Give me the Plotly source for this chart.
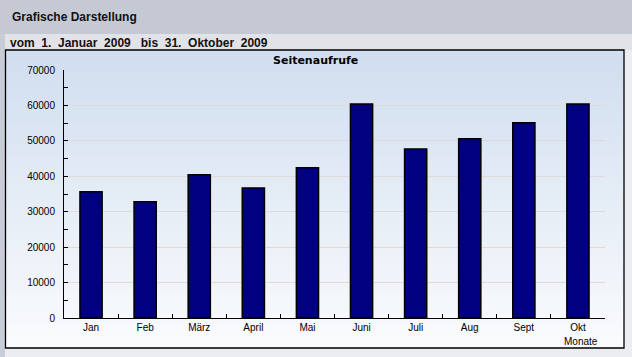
import plotly.graph_objects as go

months = ["Jan", "Feb", "März", "April", "Mai", "Juni", "Juli", "Aug", "Sept", "Okt"]
views = [35600, 32800, 40400, 36700, 42400, 60400, 47700, 50600, 55100, 60400]
y_ticks = [0, 10000, 20000, 30000, 40000, 50000, 60000, 70000]
y_ticktext = [str(v) for v in y_ticks]

W, H = 632, 357
L, R, T, B = 64, 605, 70, 318


def px(x):
    return (x - L) / (R - L)


def py(y):
    return (B - y) / (B - T)


fig = go.Figure()
fig.add_trace(go.Bar(
    x=months, y=views, width=0.41,
    marker=dict(color="#000080", line=dict(color="black", width=1.5)),
    showlegend=False, hoverinfo="x+y",
))

shapes = []
shapes.append(dict(type="rect", xref="paper", yref="paper", x0=px(0), x1=px(W), y0=py(0), y1=py(34),
                   fillcolor="#C5C9D3", line=dict(width=0), layer="below"))
shapes.append(dict(type="rect", xref="paper", yref="paper", x0=px(0), x1=px(5), y0=py(34), y1=py(H),
                   fillcolor="#C8CCD6", line=dict(width=0), layer="below"))
shapes.append(dict(type="rect", xref="paper", yref="paper", x0=px(5), x1=px(W), y0=py(34), y1=py(50),
                   fillcolor="#E2E3E8", line=dict(width=0), layer="below"))
top_c = (208, 222, 239)
bot_c = (250, 251, 253)
y0b, y1b = 50, 348
n = 60
for i in range(n):
    t = i / (n - 1)
    c = tuple(round(top_c[k] + (bot_c[k] - top_c[k]) * t) for k in range(3))
    ya = y0b + (y1b - y0b) * i / n
    yb = y0b + (y1b - y0b) * (i + 1) / n + 0.6
    shapes.append(dict(type="rect", xref="paper", yref="paper", x0=px(5), x1=px(624),
                       y0=py(ya), y1=py(min(yb, y1b)),
                       fillcolor="rgb(%d,%d,%d)" % c, line=dict(width=0), layer="below"))
shapes.append(dict(type="rect", xref="paper", yref="paper", x0=px(5.5), x1=px(624), y0=py(50), y1=py(348),
                   fillcolor="rgba(0,0,0,0)", line=dict(color="black", width=1.3), layer="below"))

sub = "vom\u00a0 1.\u00a0 Januar\u00a0 2009\u00a0 \u00a0bis\u00a0 31.\u00a0 Oktober\u00a0 2009"
annotations = [
    dict(text="<b>Grafische Darstellung</b>", xref="paper", yref="paper", x=px(10), y=py(17),
         xanchor="left", yanchor="middle", showarrow=False,
         font=dict(family="Liberation Sans, Arial", size=12, color="#111111")),
    dict(text="<b>" + sub + "</b>", xref="paper", yref="paper",
         x=px(8), y=py(43), xanchor="left", yanchor="middle", showarrow=False,
         font=dict(family="Liberation Sans, Arial", size=12, color="#111111")),
    dict(text="<b>Seitenaufrufe</b>", xref="paper", yref="paper", x=px(315), y=py(60),
         xanchor="center", yanchor="middle", showarrow=False,
         font=dict(family="DejaVu Sans, Verdana", size=11, color="black")),
    dict(text="Monate", xref="paper", yref="paper", x=px(581), y=py(341),
         xanchor="center", yanchor="middle", showarrow=False,
         font=dict(family="Liberation Sans, Arial", size=10, color="black")),
]

fig.update_layout(
    width=W, height=H,
    margin=dict(l=L, r=W - R, t=T, b=H - B, pad=0),
    paper_bgcolor="#ECEDF1",
    plot_bgcolor="rgba(0,0,0,0)",
    shapes=shapes,
    annotations=annotations,
    font=dict(family="Liberation Sans, Arial", size=10, color="black"),
    xaxis=dict(
        type="category", range=[-0.5, 9.5], showline=True, linecolor="black", linewidth=1,
        ticks="inside", tickson="boundaries", ticklen=4, tickcolor="black", tickwidth=1,
        showgrid=False, zeroline=False, fixedrange=True,
        tickfont=dict(family="Liberation Sans, Arial", size=10, color="black"),
    ),
    yaxis=dict(
        range=[0, 70000], tickmode="array", tickvals=y_ticks, ticktext=y_ticktext,
        showline=True, linecolor="black", linewidth=1,
        ticks="inside", ticklen=4, tickcolor="black", tickwidth=1,
        minor=dict(dtick=5000, ticks="inside", ticklen=4, tickcolor="black", showgrid=False),
        showgrid=True, gridcolor="#DDDADA", gridwidth=1, zeroline=False, fixedrange=True,
        ticklabelstandoff=6,
        tickfont=dict(family="Liberation Sans, Arial", size=10, color="black"),
    ),
)

fig.write_html("out.html", config={"displayModeBar": False},
               post_script="document.body.style.margin='0';document.body.style.background='#ECEDF1';")
